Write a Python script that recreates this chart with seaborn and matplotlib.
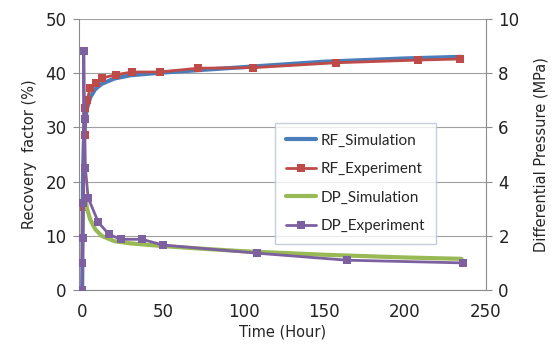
import numpy as np
import pandas as pd
import matplotlib
matplotlib.use("Agg")
import matplotlib.pyplot as plt
import seaborn as sns

# recovery factor (%) - experiment
rf_exp_t = [0, 0.5, 1.6, 2.0, 3.0, 5.0, 8.7, 12.5, 21, 31, 48, 72, 106, 157, 208, 234]
rf_exp = [5.0, 15.3, 28.6, 33.6, 35.0, 37.2, 38.2, 39.1, 39.7, 40.2, 40.2, 40.9, 41.0, 41.9, 42.4, 42.6]

# recovery factor (%) - simulation
rf_sim_t = [0, 0.5, 1, 2, 3, 5, 8, 12, 20, 30, 50, 75, 100, 150, 200, 235]
rf_sim = [0, 20, 27, 31.5, 33.5, 35.5, 37.0, 38.0, 39.0, 39.6, 40.1, 40.6, 41.1, 42.1, 42.7, 43.0]

# differential pressure (MPa) - experiment
dp_exp_t = [0, 0.2, 0.4, 0.6, 1.0, 1.5, 2.0, 3.7, 10, 16.6, 24, 37, 50, 108, 164, 236]
dp_exp = [0, 1.0, 1.9, 3.2, 8.8, 6.3, 4.5, 3.4, 2.5, 2.05, 1.87, 1.87, 1.66, 1.36, 1.1, 1.0]

# differential pressure (MPa) - simulation
dp_sim_t = [2, 3, 5, 8, 12, 20, 30, 50, 75, 100, 150, 200, 235]
dp_sim = [3.4, 3.0, 2.6, 2.25, 2.0, 1.8, 1.72, 1.62, 1.52, 1.43, 1.3, 1.2, 1.15]

sns.set_style("white")
plt.rcParams["font.family"] = ["DejaVu Sans"]

fig = plt.figure(figsize=(5.52, 3.49), dpi=100)
ax = fig.add_axes([0.143, 0.169, 0.737, 0.777])
ax2 = ax.twinx()

c_blue, c_red, c_green, c_purple = "#4A7EBB", "#BE4B48", "#98B954", "#7D60A0"

sns.lineplot(x=rf_sim_t, y=rf_sim, ax=ax, color=c_blue, lw=3, sort=False,
             estimator=None, label="RF_Simulation", legend=False)
sns.lineplot(x=rf_exp_t, y=rf_exp, ax=ax, color=c_red, lw=2, marker="s", markersize=6,
             markeredgewidth=0, sort=False, estimator=None, label="RF_Experiment", legend=False)
sns.lineplot(x=dp_sim_t, y=dp_sim, ax=ax2, color=c_green, lw=3, sort=False,
             estimator=None, label="DP_Simulation", legend=False)
sns.lineplot(x=dp_exp_t, y=dp_exp, ax=ax2, color=c_purple, lw=2, marker="s", markersize=6,
             markeredgewidth=0, sort=False, estimator=None, label="DP_Experiment", legend=False)

ax.set_xlim(-2, 250)
ax.set_ylim(0, 50)
ax2.set_ylim(0, 10)
ax.set_xticks([0, 50, 100, 150, 200, 250])
ax.set_yticks(np.arange(0, 51, 10))
ax2.set_yticks(np.arange(0, 11, 2))
ax.yaxis.grid(True, color="#a0a0a0", lw=0.8)
ax.set_axisbelow(True)

gc = "#8c8c8c"
for a in (ax, ax2):
    a.spines["top"].set_visible(False)
    a.spines["left"].set_color(gc)
    a.spines["right"].set_color(gc)
    a.spines["bottom"].set_color(gc)
    a.tick_params(colors=gc, labelcolor="#222222", labelsize=12, length=4, width=0.8, pad=5)
ax.spines["right"].set_visible(False)
ax2.spines["left"].set_visible(False)
ax2.spines["bottom"].set_visible(False)

ax.set_xlabel("Time (Hour)", fontsize=10.5, labelpad=3)
ax.set_ylabel("Recovery  factor (%)", fontsize=10.5, labelpad=6)
ax2.set_ylabel("Differential Pressure (MPa)", fontsize=10.5, labelpad=10, rotation=90)

h1, l1 = ax.get_legend_handles_labels()
h2, l2 = ax2.get_legend_handles_labels()
leg = ax2.legend(h1 + h2, l1 + l2, loc="upper left", bbox_to_anchor=(0.482, 0.616),
                 borderaxespad=0, prop={"family": "Lato", "size": 11}, frameon=True,
                 fancybox=False, handlelength=2.0, handletextpad=0.3,
                 labelspacing=0.95, borderpad=0.7)
leg.get_frame().set_edgecolor("#b8c4d8")
leg.get_frame().set_linewidth(1.0)

fig.savefig("out.png", dpi=100)
